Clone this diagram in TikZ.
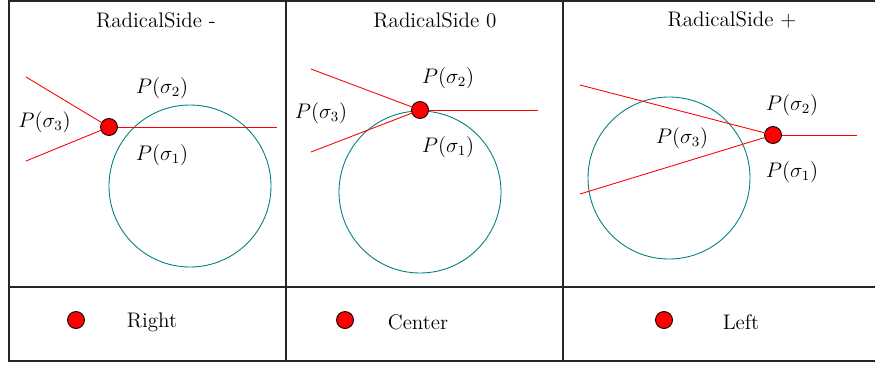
\documentclass[tikz,border=0pt]{standalone}
\usetikzlibrary{positioning}
\tikzset{
  every picture/.style={line width=0.5pt},
  dot/.style={circle, draw=black, fill=red, minimum size=0.34cm, inner sep=0pt},
  disk/.style={circle, draw=teal, minimum size=3.24cm, inner sep=0pt},
  ray/.style={draw=red},
  lbl/.style={font=\large},
  grid/.style={draw=black!85, line width=0.6pt},
}
\begin{document}
\begin{tikzpicture}
  \useasboundingbox (0,0) rectangle (17.5,-7.3);
  % table
  \draw[grid] (0.18,-0.02) rectangle (17.62,-7.22);
  \draw[grid] (0.18,-5.74) -- (17.62,-5.74);
  \foreach \x in {5.72,11.26} \draw[grid] (\x,-0.02) -- (\x,-7.22);
  % RadicalSide -
  \node[lbl] (h1) at (3.12,-0.4) {RadicalSide -};
  \node[disk] (c1) at (3.8,-3.72) {};
  \node[dot] (v1) at (2.18,-2.54) {};
  \coordinate (a1) at (0.52,-1.54);
  \coordinate (b1) at (0.52,-3.22);
  \coordinate (e1) at (5.54,-2.54);
  \draw[ray] (a1) -- (v1);
  \draw[ray] (b1) -- (v1);
  \draw[ray] (v1) -- (e1);
  \node[lbl] (p12) at (3.24,-1.76) {$P(\sigma_2)$};
  \node[lbl] (p13) at (0.89,-2.44) {$P(\sigma_3)$};
  \node[lbl] (p11) at (3.24,-3.1) {$P(\sigma_1)$};
  % RadicalSide 0
  \node[lbl] (h2) at (8.7,-0.4) {RadicalSide 0};
  \node[disk] (c2) at (8.4,-3.84) {};
  \node[dot] (v2) at (8.4,-2.2) {};
  \coordinate (a2) at (6.22,-1.38);
  \coordinate (b2) at (6.22,-3.04);
  \coordinate (e2) at (10.76,-2.2);
  \draw[ray] (a2) -- (v2);
  \draw[ray] (b2) -- (v2);
  \draw[ray] (v2) -- (e2);
  \node[lbl] (p22) at (8.96,-1.56) {$P(\sigma_2)$};
  \node[lbl] (p23) at (6.42,-2.26) {$P(\sigma_3)$};
  \node[lbl] (p21) at (8.96,-2.94) {$P(\sigma_1)$};
  % RadicalSide +
  \node[lbl] (h3) at (14.64,-0.4) {RadicalSide +};
  \node[disk] (c3) at (13.38,-3.56) {};
  \node[dot] (v3) at (15.46,-2.7) {};
  \coordinate (a3) at (11.6,-1.7);
  \coordinate (b3) at (11.6,-3.88);
  \coordinate (e3) at (17.14,-2.7);
  \draw[ray] (a3) -- (v3);
  \draw[ray] (b3) -- (v3);
  \draw[ray] (v3) -- (e3);
  \node[lbl] (p32) at (15.84,-2.1) {$P(\sigma_2)$};
  \node[lbl] (p33) at (13.64,-2.76) {$P(\sigma_3)$};
  \node[lbl] (p31) at (15.84,-3.44) {$P(\sigma_1)$};
  % bottom row
  \foreach \i/\x/\tx/\t in {1/1.52/3.04/Right, 2/6.9/8.36/Center, 3/13.28/14.82/Left} {
    \node[dot] (k\i) at (\x,-6.4) {};
    \node[lbl] (s\i) at (\tx,-6.44) {\t};
  }
\end{tikzpicture}
\end{document}
